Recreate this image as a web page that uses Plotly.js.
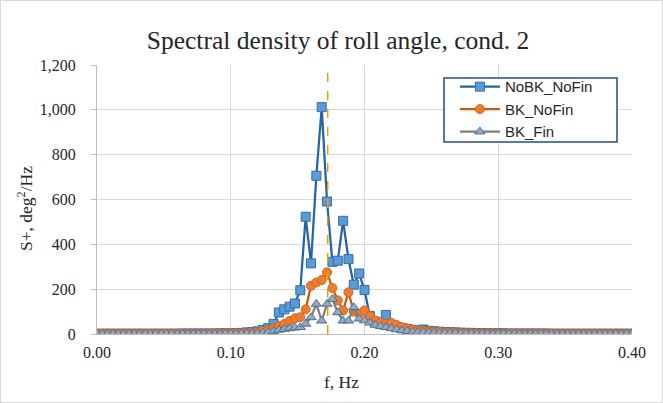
<!DOCTYPE html>
<html>
<head>
<meta charset="utf-8">
<script src="https://cdn.plot.ly/plotly-3.0.1.min.js"></script>
<style>
html,body{margin:0;padding:0;background:#fff;}
#chart{width:663px;height:403px;box-sizing:border-box;border:1px solid #D9D9D9;}
</style>
</head>
<body>
<div id="chart"></div>
<script>
// Frequency grid, Hz (step 0.004 Hz, 0 .. 0.4)
const freqStep = 0.004;
const nPts = 101;
const freq = [];
for (let i = 0; i < nPts; i++) freq.push(+(i * freqStep).toFixed(3));

const seriesNames = ["NoBK_NoFin", "BK_NoFin", "BK_Fin"];

// S+, deg^2/Hz
const noBK_NoFin = [
  1,1,1,1,1,1,1,1,1,1,
  1,1,1,1,1,1,2,2,2,2,
  2,2,2,3,3,3,4,5,7,9,
  12,18,26,45,96,110,122,136,195,523,
  315,706,1012,591,322,327,505,334,220,270,
  196,80,55,45,85,40,32,26,22,18,
  15,20,14,12,10,9,8,7,6,5,
  5,4,4,3,3,3,3,2,2,2,
  2,2,2,2,2,1,1,1,1,1,
  1,1,1,1,1,1,1,1,1,1,
  1
];
const bK_NoFin = [
  2,2,2,2,2,2,2,2,2,2,
  2,2,2,2,2,2,2,2,2,2,
  2,2,3,3,3,3,4,4,5,6,
  8,12,16,25,35,45,58,70,75,110,
  215,230,241,275,205,150,105,186,100,90,
  105,80,60,50,45,50,40,30,25,20,
  16,14,12,10,9,8,7,6,5,5,
  4,4,3,3,3,3,2,2,2,2,
  2,2,2,2,2,2,2,2,2,2,
  2,2,2,2,2,2,2,2,2,2,
  2
];
const bK_Fin = [
  1,1,1,1,1,1,1,1,1,1,
  1,1,1,1,1,1,1,1,1,1,
  1,1,1,1,2,2,2,2,3,3,
  4,5,8,12,18,22,25,28,30,45,
  74,134,59,134,156,96,59,59,119,68,
  60,50,40,35,30,25,20,16,13,10,
  9,8,7,6,5,5,4,4,3,3,
  3,2,2,2,2,2,2,1,1,1,
  1,1,1,1,1,1,1,1,1,1,
  1,1,1,1,1,1,1,1,1,1,
  1
];
const markerFreq = 0.1725; // dashed vertical line

const xTicks = [0, 0.1, 0.2, 0.3, 0.4];
const yTicks = [0, 200, 400, 600, 800, 1000, 1200];

const serif = "Liberation Serif, Times New Roman, serif";

const traces = [
  {
    x: freq, y: noBK_NoFin, name: seriesNames[0], type: "scatter", mode: "lines+markers",
    line: {color: "#2464A6", width: 2.25},
    marker: {symbol: "square", size: 9, color: "#5B9BD5", line: {color: "#2E6DB0", width: 1}}
  },
  {
    x: freq, y: bK_NoFin, name: seriesNames[1], type: "scatter", mode: "lines+markers",
    line: {color: "#C55A11", width: 2.25},
    marker: {symbol: "circle", size: 9, color: "#ED7D31", line: {color: "#D0661E", width: 1}}
  },
  {
    x: freq, y: bK_Fin, name: seriesNames[2], type: "scatter", mode: "lines+markers",
    line: {color: "#7F7F7F", width: 2.25},
    marker: {symbol: "triangle-up", size: 9, color: "#A5A5A5", line: {color: "#3C73B4", width: 1}}
  }
];

// plot area in px (inside 661x401 plot div)
const W = 661, H = 401;
const mL = 96, mR = 30, mT = 64, mB = 68;
const plotH = H - mT - mB;
const plotW = W - mL - mR;

const layout = {
  width: W, height: H,
  margin: {l: mL, r: mR, t: mT, b: mB},
  paper_bgcolor: "#ffffff",
  plot_bgcolor: "#ffffff",
  font: {family: serif, color: "#404040", size: 14},
  title: {
    text: "Spectral density of roll angle, cond. 2",
    font: {family: serif, size: 25.5, color: "#262626"},
    x: 337 / W, xanchor: "center", y: 1 - 39 / H, yanchor: "middle"
  },
  xaxis: {
    range: [0, 0.4], tickvals: xTicks, tickformat: ".2f",
    showgrid: true, gridcolor: "#D9D9D9", gridwidth: 1,
    zeroline: false, showline: true, linecolor: "#BFBFBF", linewidth: 1,
    ticks: "", tickfont: {family: serif, size: 16, color: "#262626"},
    ticklabelstandoff: 4
  },
  yaxis: {
    range: [0, 1200], tickvals: yTicks, tickformat: ",d",
    showgrid: true, gridcolor: "#D9D9D9", gridwidth: 1,
    zeroline: false, showline: true, linecolor: "#BFBFBF", linewidth: 1,
    ticks: "outside", ticklen: 5, tickcolor: "#BFBFBF",
    tickfont: {family: serif, size: 16, color: "#262626"},
    ticklabelstandoff: 12
  },
  annotations: [
    {
      text: "f, Hz", xref: "paper", yref: "paper",
      x: (340 - mL) / plotW, y: 0, yshift: -(381 - (mT + plotH)),
      xanchor: "center", yanchor: "middle", showarrow: false,
      font: {family: serif, size: 17.5, color: "#262626"}
    },
    {
      text: "S+, deg<sup>2</sup>/Hz", xref: "paper", yref: "paper",
      x: 0, xshift: -(mL - 24), y: (mT + plotH - 208) / plotH,
      xanchor: "center", yanchor: "middle", textangle: -90, showarrow: false,
      font: {family: serif, size: 17.5, color: "#262626"}
    }
  ],
  legend: {
    x: 0.669, y: 0.98, xanchor: "left", yanchor: "top",
    bgcolor: "rgba(0,0,0,0)", borderwidth: 0,
    font: {family: "Liberation Sans, Arial, sans-serif", size: 15, color: "#262626"},
    tracegroupgap: 0, itemwidth: 40
  },
  shapes: [
    {
      type: "line", xref: "x", yref: "paper",
      x0: markerFreq, x1: markerFreq, y0: 0, y1: 1,
      line: {color: "#E8A000", width: 1.5, dash: "dash"}
    },
    {
      type: "rect", xref: "paper", yref: "paper", layer: "above",
      x0: (443 - mL) / plotW, x1: (616 - mL) / plotW,
      y0: (mT + plotH - 141) / plotH, y1: (mT + plotH - 77) / plotH,
      fillcolor: "#ffffff", line: {color: "#1F4E8C", width: 1.5}
    }
  ],
  showlegend: true
};

Plotly.newPlot("chart", traces, layout, {displayModeBar: false, staticPlot: true});
</script>
</body>
</html>
